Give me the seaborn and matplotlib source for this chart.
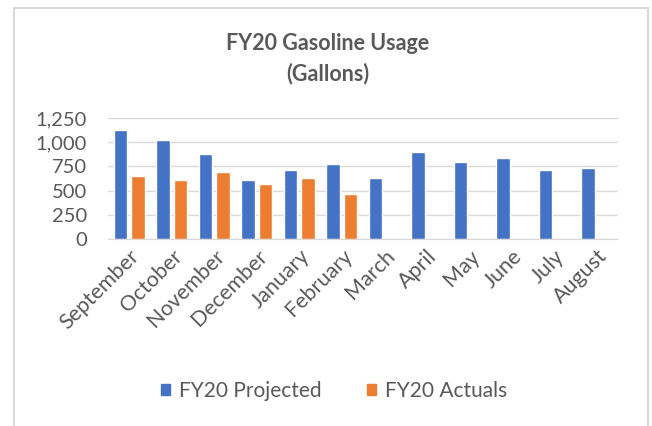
import numpy as np
import pandas as pd
import matplotlib
matplotlib.use('Agg')
import matplotlib.pyplot as plt
import seaborn as sns
from matplotlib.patches import Rectangle
from matplotlib.ticker import FuncFormatter

# data
months = ['September', 'October', 'November', 'December', 'January', 'February',
          'March', 'April', 'May', 'June', 'July', 'August']
projected = [1130, 1020, 880, 610, 710, 775, 627, 897, 793, 834, 710, 730]
actuals = [647, 609, 692, 564, 630, 460, np.nan, np.nan, np.nan, np.nan, np.nan, np.nan]
series = ['FY20 Projected', 'FY20 Actuals']
colors = ['#4472C4', '#ED7D31']

df = pd.DataFrame({'Month': months * 2,
                   'Gallons': projected + actuals,
                   'Series': [series[0]] * 12 + [series[1]] * 12})

sns.set_style('white')
plt.rcParams['font.family'] = ['Lato', 'DejaVu Sans']
txt = '#595959'

fig = plt.figure(figsize=(6.52, 4.26), dpi=100)
W, H = 652, 426
ax = fig.add_axes([108 / W, 1 - 239 / H, (618 - 108) / W, (239 - 118) / H])

sns.barplot(data=df, x='Month', y='Gallons', hue='Series', palette=colors,
            width=0.84, gap=0.25, saturation=1, ax=ax, legend=False)

ax.set_ylim(0, 1250)
ax.set_yticks([0, 250, 500, 750, 1000, 1250])
ax.yaxis.set_major_formatter(FuncFormatter(lambda v, p: f'{int(v):,}'))
ax.set_xlim(-0.5, 11.5)
ax.grid(axis='y', color='#D9D9D9', linewidth=1)
ax.set_axisbelow(True)
for s in ['top', 'right', 'left']:
    ax.spines[s].set_visible(False)
ax.spines['bottom'].set_color('#D9D9D9')
ax.set_xlabel('')
ax.set_ylabel('')
ax.tick_params(axis='y', length=0, labelsize=14.5, labelcolor=txt, pad=15)
ax.tick_params(axis='x', length=0, labelsize=15.5, labelcolor=txt, pad=5)
plt.setp(ax.get_xticklabels(), rotation=45, ha='right', rotation_mode='anchor')

fig.text(328 / W, 1 - 44 / H, 'FY20 Gasoline Usage', ha='center', va='center',
         fontsize=15.5, fontweight='bold', color=txt)
fig.text(328 / W, 1 - 74 / H, '(Gallons)', ha='center', va='center',
         fontsize=15.5, fontweight='bold', color=txt)

handles = [Rectangle((0, 0), 1, 1, color=c) for c in colors]
fig.legend(handles, series, loc='center', bbox_to_anchor=(334 / W, 1 - 391 / H),
           ncol=2, frameon=False, fontsize=15, labelcolor=txt,
           handlelength=0.45, handleheight=0.45, handletextpad=0.4, columnspacing=2.2)

# chart border
fig.patches.append(Rectangle((14 / W, -0.1), (648 - 14) / W, 1.1 - 8 / H,
                             transform=fig.transFigure, fill=False,
                             edgecolor='#D9D9D9', linewidth=1.5))

fig.savefig('out.png', dpi=100)
